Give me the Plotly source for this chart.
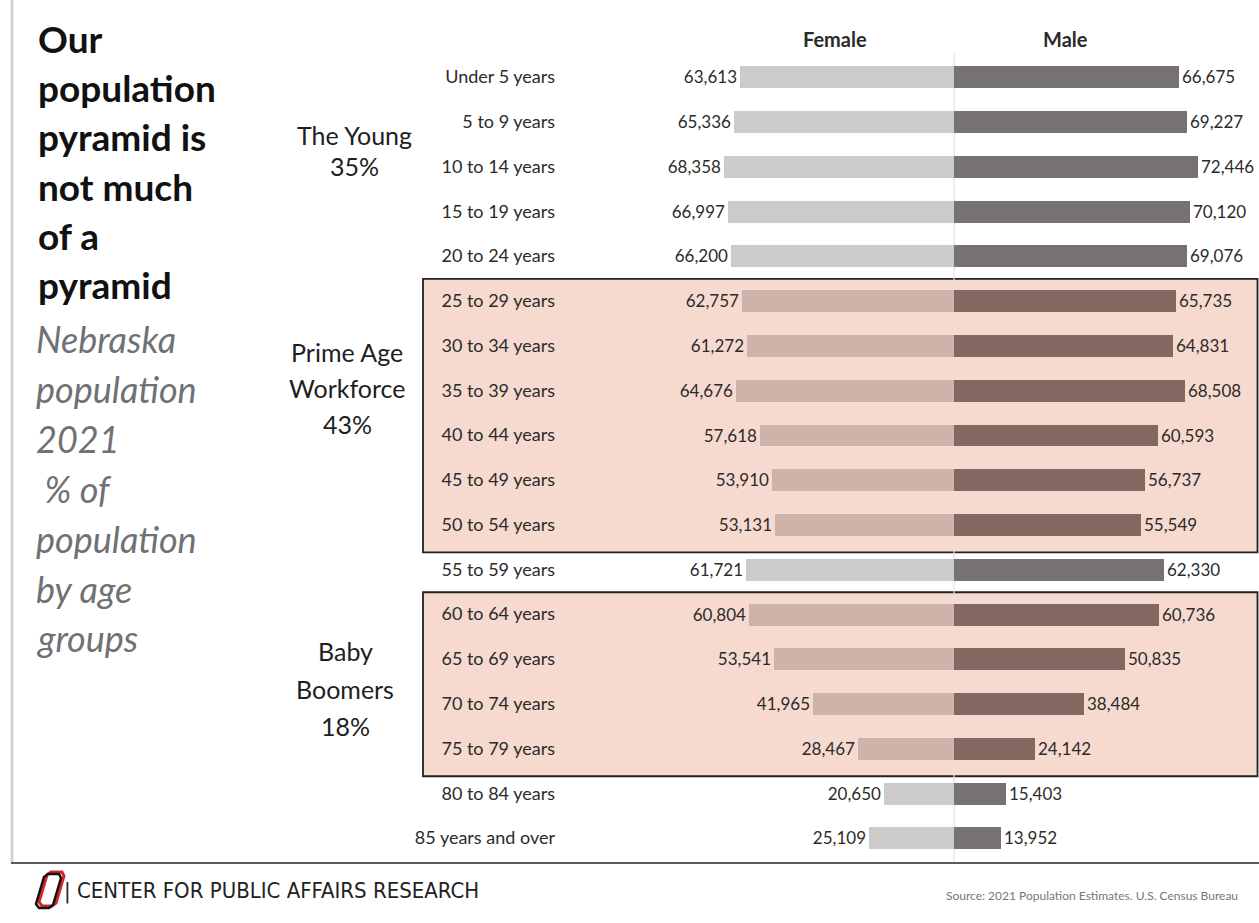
import plotly.graph_objects as go

# ---------------- data ----------------
ages = ["Under 5 years", "5 to 9 years", "10 to 14 years", "15 to 19 years",
        "20 to 24 years", "25 to 29 years", "30 to 34 years", "35 to 39 years",
        "40 to 44 years", "45 to 49 years", "50 to 54 years", "55 to 59 years",
        "60 to 64 years", "65 to 69 years", "70 to 74 years", "75 to 79 years",
        "80 to 84 years", "85 years and over"]
female = [63613, 65336, 68358, 66997, 66200, 62757, 61272, 64676, 57618,
          53910, 53131, 61721, 60804, 53541, 41965, 28467, 20650, 25109]
male = [66675, 69227, 72446, 70120, 69076, 65735, 64831, 68508, 60593,
        56737, 55549, 62330, 60736, 50835, 38484, 24142, 15403, 13952]
# age groups highlighted with a box (first and last age in the group)
highlight_groups = [("25 to 29 years", "50 to 54 years"),
                    ("60 to 64 years", "75 to 79 years")]
group_labels = [["The Young", "35%"],
                ["Prime Age", "Workforce", "43%"],
                ["Baby", "Boomers", "18%"]]
title_lines = ["Our", "population", "pyramid is", "not much", "of a", "pyramid"]
subtitle_lines = ["Nebraska", "population", "2021", " % of", "population",
                  "by age", "groups"]
footer_text = "| CENTER FOR PUBLIC AFFAIRS RESEARCH"
source_text = "Source: 2021 Population Estimates. U.S. Census Bureau"

# ---------------- styles ----------------
W, H = 1259, 923
FONT = "Lato, 'Open Sans', sans-serif"
F_NORMAL, F_HL = "#CBCBCB", "#CDB3A9"
M_NORMAL, M_HL = "#767172", "#836862"
BOX_FILL = "#F6D9CF"
TXT = "#2b2b2b"


def px(x):
    return x / W


def py(y):
    return 1 - y / H


idx = {a: i for i, a in enumerate(ages)}
hl = [False] * len(ages)
for a0, a1 in highlight_groups:
    for i in range(idx[a0], idx[a1] + 1):
        hl[i] = True

fig = go.Figure()
fig.add_trace(go.Bar(
    y=ages, x=[-v for v in female], base=0, orientation="h", width=0.49,
    marker=dict(color=[F_HL if h else F_NORMAL for h in hl], line=dict(width=0)),
    text=[f"{v:,}" for v in female], textposition="outside",
    textfont=dict(family=FONT, size=17, color=TXT),
    constraintext="none", cliponaxis=False, name="Female", showlegend=False))
fig.add_trace(go.Bar(
    y=ages, x=male, base=0, orientation="h", width=0.49,
    marker=dict(color=[M_HL if h else M_NORMAL for h in hl], line=dict(width=0)),
    text=[f"{v:,}" for v in male], textposition="outside",
    textfont=dict(family=FONT, size=17, color=TXT),
    constraintext="none", cliponaxis=False, name="Male", showlegend=False))

shapes = []
# highlighted boxes
for a0, a1 in highlight_groups:
    shapes.append(dict(type="rect", layer="below", xref="paper", yref="y",
                       x0=px(423), x1=px(1257.5),
                       y0=idx[a0] - 0.49, y1=idx[a1] + 0.62,
                       fillcolor=BOX_FILL, line=dict(color="#222222", width=1.8)))
# centre line
shapes.append(dict(type="line", layer="below", xref="x", yref="paper",
                   x0=0, x1=0, y0=py(862), y1=py(53),
                   line=dict(color="#E2E2E2", width=1.2)))
# frame lines
shapes.append(dict(type="line", xref="paper", yref="paper",
                   x0=px(12), x1=px(12), y0=py(0), y1=py(863),
                   line=dict(color="#D3D3D3", width=3)))
shapes.append(dict(type="line", xref="paper", yref="paper",
                   x0=px(11), x1=1, y0=py(863), y1=py(863),
                   line=dict(color="#5a5a5a", width=2)))


# logo (slanted O)
def logo_path(dx, dy):
    pts = [(49, 873), (60, 873), (62, 877), (54, 904), (50, 907), (40, 907),
           (37, 903), (45, 876)]
    return "M " + " L ".join(f"{px(x + dx)},{py(y + dy)}" for x, y in pts) + " Z"


shapes.append(dict(type="path", xref="paper", yref="paper",
                   path=logo_path(2, -1), line=dict(color="#D7262B", width=3)))
shapes.append(dict(type="path", xref="paper", yref="paper",
                   path=logo_path(-1, 1), line=dict(color="#111111", width=2.5)))

ann = []
# headers
for t, hx in (("Female", 835), ("Male", 1065)):
    ann.append(dict(text=t, x=px(hx), y=py(39), xref="paper", yref="paper",
                    xanchor="center", yanchor="middle", showarrow=False,
                    font=dict(family=FONT, size=20, color=TXT, weight="bold")))
# title
title_y = [39, 88, 137, 186, 235, 284]
for t, yy in zip(title_lines, title_y):
    ann.append(dict(text=t, x=px(36), y=py(yy), xref="paper", yref="paper",
                    xanchor="left", yanchor="middle", showarrow=False,
                    font=dict(family=FONT, size=37, color="#111111", weight="bold")))
sub_y = [339, 389, 439, 489, 539, 589, 638]
for t, yy in zip(subtitle_lines, sub_y):
    ann.append(dict(text=f"<i>{t}</i>", x=px(34), y=py(yy), xref="paper", yref="paper",
                    xanchor="left", yanchor="middle", showarrow=False,
                    font=dict(family=FONT, size=36, color="#707174")))
# group labels
group_pos = [(354, [135, 166]), (347, [352, 388, 424]), (345, [651, 689, 726])]
for lines, (gx, gys) in zip(group_labels, group_pos):
    for t, yy in zip(lines, gys):
        ann.append(dict(text=t, x=px(gx), y=py(yy), xref="paper", yref="paper",
                        xanchor="center", yanchor="middle", showarrow=False,
                        font=dict(family=FONT, size=25, color="#1e1e1e")))
# footer
ann.append(dict(text=footer_text, x=px(62), y=py(891), xref="paper", yref="paper",
                xanchor="left", yanchor="middle", showarrow=False,
                font=dict(family="'DejaVu Sans Condensed', 'Liberation Sans Narrow', sans-serif",
                          size=22, color="#222222")))
ann.append(dict(text=source_text, x=px(1240), y=py(895), xref="paper", yref="paper",
                xanchor="right", yanchor="middle", showarrow=False,
                font=dict(family=FONT, size=12, color="#777777")))

top_px, bot_px = 54.6, 860.4
fig.update_layout(
    width=W, height=H, margin=dict(l=0, r=0, t=0, b=0),
    paper_bgcolor="white", plot_bgcolor="rgba(0,0,0,0)",
    barmode="overlay", bargap=0, showlegend=False,
    shapes=shapes, annotations=ann,
    font=dict(family=FONT, color=TXT),
    xaxis=dict(domain=[px(562), px(1256)], range=[-116300, 89600],
               showgrid=False, zeroline=False, showticklabels=False,
               showline=False, fixedrange=True),
    yaxis=dict(domain=[py(bot_px), py(top_px)], type="category",
               categoryorder="array", categoryarray=ages,
               range=[len(ages) - 0.5, -0.5],
               showgrid=False, zeroline=False, showline=False, ticks="",
               ticklabelstandoff=6,
               tickfont=dict(family=FONT, size=18, color=TXT), fixedrange=True),
)

fig.write_html("out.html", config={"displayModeBar": False},
               post_script="document.body.style.margin='0';")
